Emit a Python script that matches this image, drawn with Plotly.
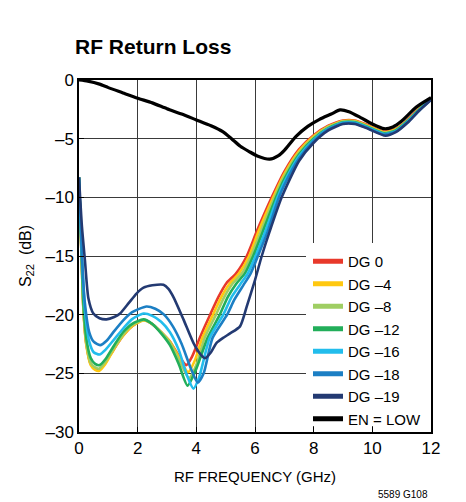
import plotly.graph_objects as go

# ---- S22 return loss data (frequency in GHz, S22 in dB) ----
dg0_f = [0, 0.08, 0.15, 0.25, 0.4, 0.55, 0.7, 0.9, 1.2, 1.5, 1.8, 2.2, 2.5, 2.8, 3.1, 3.4, 3.66, 3.85,
         4.13, 4.47, 4.75, 5.03, 5.35, 5.72, 6.06, 6.57, 7.0, 7.5, 8.0, 8.5, 9.0, 9.4, 9.8, 10.4, 10.8,
         11.2, 11.6, 12.0]
dg0_s = [-8.3, -14.5, -19.5, -22.5, -24.2, -24.6, -24.7, -24.1, -22.9, -21.8, -21.0, -20.45, -20.8,
         -21.5, -22.3, -23.5, -24.3, -23.6, -21.9, -20.0, -18.5, -17.3, -16.5, -15.0, -12.9, -10.0,
         -7.8, -5.9, -4.7, -3.9, -3.45, -3.45, -3.8, -4.4, -4.15, -3.4, -2.4, -1.6]

dg4_f = [0, 0.08, 0.15, 0.25, 0.4, 0.55, 0.68, 0.9, 1.2, 1.5, 1.8, 2.2, 2.5, 2.8, 3.1, 3.4, 3.72, 3.95,
         4.2, 4.57, 4.85, 5.12, 5.45, 5.8, 6.12, 6.62, 7.0, 7.5, 8.0, 8.5, 9.0, 9.4, 9.8, 10.4, 10.8,
         11.2, 11.6, 12.0]
dg4_s = [-8.3, -14.5, -19.5, -22.6, -24.3, -24.7, -24.8, -24.2, -22.9, -21.8, -21.0, -20.5, -20.8,
         -21.5, -22.3, -23.6, -24.9, -23.9, -22.0, -20.0, -18.5, -17.4, -16.5, -15.0, -12.9, -10.0,
         -8.0, -6.05, -4.8, -3.95, -3.5, -3.5, -3.85, -4.45, -4.2, -3.45, -2.45, -1.6]

dg8_f = [0, 0.08, 0.15, 0.25, 0.4, 0.55, 0.68, 0.9, 1.2, 1.5, 1.8, 2.2, 2.5, 2.8, 3.1, 3.4, 3.75, 4.0,
         4.28, 4.67, 4.95, 5.22, 5.55, 5.87, 6.2, 6.67, 7.0, 7.5, 8.0, 8.5, 9.0, 9.4, 9.8, 10.4, 10.8,
         11.2, 11.6, 12.0]
dg8_s = [-8.3, -14.5, -19.4, -22.4, -24.1, -24.5, -24.6, -24.0, -22.8, -21.7, -20.9, -20.45, -20.8,
         -21.5, -22.4, -23.8, -25.4, -24.3, -22.0, -20.0, -18.5, -17.4, -16.5, -15.0, -12.9, -10.0,
         -8.2, -6.2, -4.9, -4.0, -3.55, -3.55, -3.9, -4.5, -4.25, -3.5, -2.5, -1.62]

dg12_f = [0, 0.08, 0.15, 0.25, 0.4, 0.55, 0.7, 0.9, 1.2, 1.5, 1.8, 2.2, 2.5, 2.8, 3.1, 3.4, 3.7, 4.0,
          4.38, 4.8, 5.07, 5.35, 5.65, 5.94, 6.27, 6.72, 7.0, 7.5, 8.0, 8.5, 9.0, 9.4, 9.8, 10.4, 10.8,
          11.2, 11.6, 12.0]
dg12_s = [-8.3, -14.3, -19.0, -22.0, -23.7, -24.2, -24.3, -23.8, -22.6, -21.5, -20.8, -20.4, -20.8,
          -21.6, -22.6, -24.2, -26.05, -24.6, -22.0, -20.0, -18.5, -17.4, -16.5, -15.0, -12.9, -10.0,
          -8.45, -6.35, -5.0, -4.1, -3.6, -3.6, -3.95, -4.55, -4.3, -3.5, -2.5, -1.63]

dg16_f = [0, 0.1, 0.2, 0.35, 0.5, 0.7, 0.9, 1.2, 1.5, 1.8, 2.2, 2.5, 2.8, 3.1, 3.4, 3.7, 3.9, 4.1,
          4.45, 4.92, 5.2, 5.5, 5.75, 6.02, 6.35, 6.77, 7.0, 7.5, 8.0, 8.5, 9.0, 9.4, 9.8, 10.4, 10.8,
          11.2, 11.6, 12.0]
dg16_s = [-8.3, -15.0, -19.5, -22.3, -23.2, -23.4, -23.0, -22.1, -21.2, -20.4, -19.9, -20.1, -20.6,
          -21.5, -23.0, -25.3, -26.3, -25.3, -22.0, -20.0, -18.5, -17.4, -16.5, -15.0, -12.9, -10.0,
          -8.7, -6.5, -5.1, -4.15, -3.65, -3.65, -4.0, -4.6, -4.35, -3.55, -2.55, -1.65]

dg18_f = [0, 0.1, 0.2, 0.35, 0.5, 0.72, 0.95, 1.2, 1.5, 1.8, 2.3, 2.6, 2.9, 3.2, 3.5, 3.8, 4.05, 4.25,
          4.55, 5.05, 5.3, 5.6, 5.85, 6.1, 6.43, 6.82, 7.0, 7.5, 8.0, 8.5, 9.0, 9.4, 9.8, 10.4, 10.8,
          11.2, 11.6, 12.0]
dg18_s = [-8.3, -15.0, -19.0, -21.5, -22.3, -22.6, -22.2, -21.4, -20.5, -19.8, -19.3, -19.5, -20.0,
          -21.0, -22.5, -24.5, -25.8, -25.0, -22.0, -20.0, -18.7, -17.5, -16.5, -15.0, -12.9, -10.0,
          -8.95, -6.7, -5.2, -4.2, -3.7, -3.7, -4.05, -4.65, -4.4, -3.6, -2.6, -1.67]

dg19_f = [0, 0.1, 0.2, 0.32, 0.49, 0.7, 0.94, 1.2, 1.4, 1.7, 1.96, 2.2, 2.5, 2.88, 3.05, 3.22, 3.56,
          3.9, 4.15, 4.3, 4.5, 4.69, 4.9, 5.15, 5.49, 5.72, 6.0, 6.23, 6.5, 6.91, 7.5, 8.0, 8.5, 9.0,
          9.4, 9.8, 10.45, 10.8, 11.2, 11.6, 12.0]
dg19_s = [-8.3, -12.5, -15.3, -18.6, -19.9, -20.3, -20.4, -20.2, -19.9, -19.0, -18.2, -17.7, -17.5,
          -17.45, -17.8, -18.5, -20.4, -22.4, -23.4, -23.7, -23.2, -22.4, -22.0, -21.6, -21.0, -19.3,
          -17.05, -15.0, -12.9, -10.0, -6.9, -5.35, -4.3, -3.75, -3.75, -4.1, -4.75, -4.45, -3.65,
          -2.6, -1.7]

en_low_f = [0, 0.3, 0.7, 1.0, 1.5, 2.0, 2.5, 3.0, 3.5, 4.0, 4.5, 4.9, 5.2, 5.5, 5.8, 6.1, 6.5, 6.8,
            7.0, 7.4, 7.8, 8.2, 8.6, 8.9, 9.2, 9.6, 10.0, 10.4, 10.7, 11.0, 11.5, 12.0]
en_low_s = [0, -0.1, -0.35, -0.65, -1.1, -1.55, -1.95, -2.45, -2.9, -3.4, -3.9, -4.4, -5.0, -5.65,
            -6.1, -6.5, -6.75, -6.45, -6.0, -4.8, -3.95, -3.35, -2.9, -2.55, -2.7, -3.2, -3.75,
            -4.15, -4.0, -3.5, -2.3, -1.5]

series_names = ["DG 0", "DG \u20134", "DG \u20138", "DG \u201312", "DG \u201316", "DG \u201318",
                "DG \u201319", "EN = LOW"]
series_colors = ["#E8392B", "#FFC810", "#9FCE63", "#22AE5A", "#22BDEC", "#1C7FC4", "#233A72", "#000000"]
series_data = [(dg0_f, dg0_s), (dg4_f, dg4_s), (dg8_f, dg8_s), (dg12_f, dg12_s), (dg16_f, dg16_s),
               (dg18_f, dg18_s), (dg19_f, dg19_s), (en_low_f, en_low_s)]

x_ticks = [0, 2, 4, 6, 8, 10, 12]
y_ticks = [0, -5, -10, -15, -20, -25, -30]
y_tick_text = ["0", "\u20135", "\u201310", "\u201315", "\u201320", "\u201325", "\u201330"]

FONT = "Liberation Sans, Arial, Helvetica, sans-serif"

# plot area in pixels (figure is 466 x 502)
L, R, T, B = 79, 431, 80, 432
X_MAX, Y_MIN = 12.0, -30.0


def paper_x(px):
    return (px - L) / (R - L)


def paper_y(py):
    return (B - py) / (B - T)


def data_x(px):
    return X_MAX * (px - L) / (R - L)


def data_y(py):
    return Y_MIN * (py - T) / (B - T)


fig = go.Figure()

for name, color, (fx, sy) in zip(series_names, series_colors, series_data):
    width = 3.2 if name == "EN = LOW" else 2.6
    fig.add_trace(go.Scatter(x=fx, y=sy, mode="lines", name=name, showlegend=False,
                             line=dict(color=color, width=width, shape="spline", smoothing=0.6)))

# legend entries with thicker sample lines
for name, color in zip(series_names, series_colors):
    fig.add_trace(go.Scatter(x=[None], y=[None], mode="lines", name=name,
                             line=dict(color=color, width=5)))

# blank panel behind the legend: hides grid lines but not the axes, ticks or traces
fig.add_shape(type="rect", xref="x", yref="y",
              x0=data_x(306), x1=X_MAX, y0=data_y(426), y1=data_y(243),
              fillcolor="white", line=dict(width=0), layer="between")

fig.update_layout(
    width=466, height=502,
    margin=dict(l=L, r=466 - R, t=T, b=502 - B),
    paper_bgcolor="white", plot_bgcolor="white",
    font=dict(family=FONT, color="black", size=16),
    title=dict(text="<b>RF Return Loss</b>", x=75 / 466, xanchor="left", xref="container",
               y=1 - 47 / 502, yanchor="middle", yref="container",
               font=dict(family=FONT, size=21, color="black")),
    showlegend=True,
    legend=dict(x=paper_x(308), xanchor="left", y=paper_y(245), yanchor="top",
                bgcolor="rgba(0,0,0,0)", borderwidth=0,
                font=dict(family=FONT, size=15), tracegroupgap=0, itemwidth=30),
)

fig.update_xaxes(range=[0, X_MAX], tickvals=x_ticks, ticktext=[str(v) for v in x_ticks],
                 showgrid=True, gridcolor="#3a3a3a", gridwidth=1,
                 showline=True, linecolor="black", linewidth=1.5, mirror=True,
                 ticks="inside", ticklen=5, tickcolor="black", zeroline=False,
                 title=dict(text="RF FREQUENCY (GHz)", font=dict(size=15), standoff=14),
                 tickfont=dict(size=17))
fig.update_yaxes(range=[Y_MIN, 0], tickvals=y_ticks, ticktext=y_tick_text,
                 showgrid=True, gridcolor="#3a3a3a", gridwidth=1,
                 showline=True, linecolor="black", linewidth=1.5, mirror=True,
                 ticks="inside", ticklen=5, tickcolor="black", zeroline=False,
                 title=dict(text="S<sub>22</sub>  (dB)", font=dict(size=16), standoff=10),
                 tickfont=dict(size=17))

fig.add_annotation(text="5589 G108", x=paper_x(430), y=paper_y(494), xref="paper", yref="paper",
                   xanchor="right", yanchor="middle", showarrow=False,
                   font=dict(family=FONT, size=10))

fig.write_html("out.html")
